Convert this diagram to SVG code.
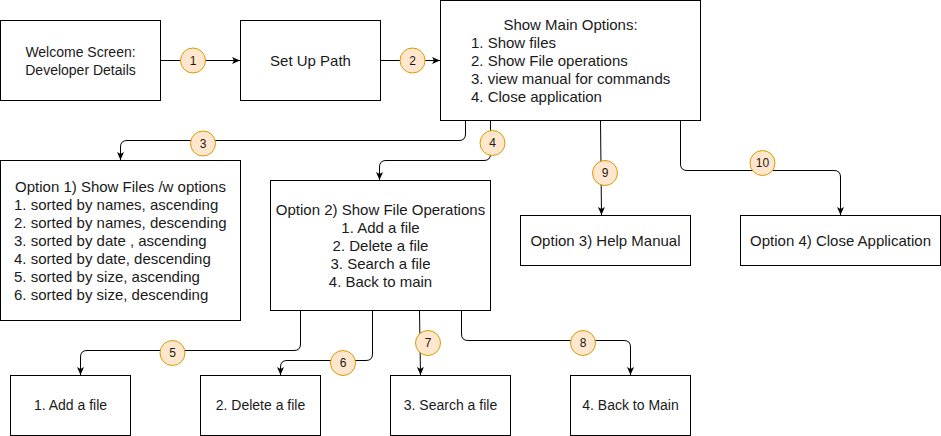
<svg xmlns="http://www.w3.org/2000/svg" width="941" height="436" viewBox="0 0 941 436">
<style>
.box{fill:#fff;stroke:#000;stroke-width:1}
.t{font-family:"Liberation Sans",Arial,sans-serif;font-size:15px;fill:#1a1a1a}
.s{font-size:14px}
.c{text-anchor:middle}
.e{fill:none;stroke:#000;stroke-width:1}
.lb{fill:#ffe6cc;stroke:#d79b00;stroke-width:1}
.n{font-family:"Liberation Sans",Arial,sans-serif;font-size:12px;fill:#1a1a1a;text-anchor:middle}
</style>
<defs>
<marker id="arr" markerUnits="userSpaceOnUse" markerWidth="8" markerHeight="7" viewBox="0 0 8 7" refX="8" refY="3.5" orient="auto">
<path d="M0,0 L8,3.5 L0,7 L2,3.5 z" fill="#000"/>
</marker>
</defs>
<rect width="941" height="436" fill="#fff"/>
<g id="welcome"><rect class="box" x="0.5" y="20.5" width="160" height="80"/><text class="t s c" x="80.5" y="57">Welcome Screen:</text><text class="t s c" x="80.5" y="74.5">Developer Details</text></g>
<g id="setup"><rect class="box" x="240.5" y="20.5" width="140" height="80"/><text class="t c" x="310.5" y="66">Set Up Path</text></g>
<g id="main"><rect class="box" x="440.5" y="0.5" width="260" height="120"/>
<text class="t c" x="570.5" y="29.5">Show Main Options:</text>
<text class="t" x="471" y="47.5">1. Show files</text>
<text class="t" x="471" y="65.5">2. Show File operations</text>
<text class="t" x="471" y="83.5">3. view manual for commands</text>
<text class="t" x="471" y="101.5">4. Close application</text></g>
<g id="opt1"><rect class="box" x="0.5" y="160.5" width="240" height="160"/>
<text class="t c" x="120.5" y="191.5">Option 1) Show Files /w options</text>
<text class="t" x="14" y="209.5">1. sorted by names, ascending</text>
<text class="t" x="14" y="227.5">2. sorted by names, descending</text>
<text class="t" x="14" y="245.5">3. sorted by date , ascending</text>
<text class="t" x="14" y="263.5">4. sorted by date, descending</text>
<text class="t" x="14" y="281.5">5. sorted by size, ascending</text>
<text class="t" x="14" y="299.5">6. sorted by size, descending</text></g>
<g id="opt2"><rect class="box" x="270.5" y="180.5" width="220" height="130"/>
<text class="t c" x="380.5" y="214.5">Option 2) Show File Operations</text>
<text class="t c" x="380.5" y="232.5">1. Add a file</text>
<text class="t c" x="380.5" y="250.5">2. Delete a file</text>
<text class="t c" x="380.5" y="268.5">3. Search a file</text>
<text class="t c" x="380.5" y="286.5">4. Back to main</text></g>
<g id="opt3"><rect class="box" x="520.5" y="215.5" width="170" height="50"/><text class="t c" x="605.5" y="246">Option 3) Help Manual</text></g>
<g id="opt4"><rect class="box" x="740.5" y="215.5" width="200" height="50"/><text class="t c" x="840.5" y="246">Option 4) Close Application</text></g>
<g id="add"><rect class="box" x="10.5" y="375.5" width="120" height="60"/><text class="t s c" x="70.5" y="410">1. Add a file</text></g>
<g id="delete"><rect class="box" x="200.5" y="375.5" width="120" height="60"/><text class="t s c" x="260.5" y="410">2. Delete a file</text></g>
<g id="search"><rect class="box" x="390.5" y="375.5" width="120" height="60"/><text class="t s c" x="450.5" y="410">3. Search a file</text></g>
<g id="back"><rect class="box" x="570.5" y="375.5" width="120" height="60"/><text class="t s c" x="630.5" y="410">4. Back to Main</text></g>
<g id="connectors">
<path class="e" marker-end="url(#arr)" d="M161,60.5 H240"/>
<path class="e" marker-end="url(#arr)" d="M381,60.5 H440"/>
<path class="e" marker-end="url(#arr)" d="M465.5,121 V134 Q465.5,140.5 459,140.5 H127 Q120.5,140.5 120.5,147 V160"/>
<path class="e" marker-end="url(#arr)" d="M490.5,121 V154 Q490.5,160.5 484,160.5 H386 Q379.5,160.5 379.5,167 V180"/>
<path class="e" marker-end="url(#arr)" d="M600.5,121 L601.5,215"/>
<path class="e" marker-end="url(#arr)" d="M680.5,121 V164 Q680.5,170.5 687,170.5 H834 Q840.5,170.5 840.5,177 V215"/>
<path class="e" marker-end="url(#arr)" d="M300.5,311 V344 Q300.5,350.5 294,350.5 H87 Q80.5,350.5 80.5,357 V375"/>
<path class="e" marker-end="url(#arr)" d="M372.5,311 V354 Q372.5,360.5 366,360.5 H287 Q280.5,360.5 280.5,367 V375"/>
<path class="e" marker-end="url(#arr)" d="M419.5,311 L420.5,375"/>
<path class="e" marker-end="url(#arr)" d="M461.5,311 V334 Q461.5,340.5 468,340.5 H624 Q630.5,340.5 630.5,347 V375"/>
<g id="labels">
<circle class="lb" cx="193" cy="60.5" r="12.5"/><text class="n" x="193" y="64.5">1</text>
<circle class="lb" cx="412.5" cy="60.5" r="12.5"/><text class="n" x="412.5" y="64.5">2</text>
<circle class="lb" cx="203" cy="143.5" r="12.5"/><text class="n" x="203" y="147.5">3</text>
<circle class="lb" cx="492.5" cy="143" r="12.5"/><text class="n" x="492.5" y="147">4</text>
<circle class="lb" cx="172.5" cy="353" r="12.5"/><text class="n" x="172.5" y="357">5</text>
<circle class="lb" cx="343" cy="363" r="12.5"/><text class="n" x="343" y="367">6</text>
<circle class="lb" cx="428" cy="343" r="12.5"/><text class="n" x="428" y="347">7</text>
<circle class="lb" cx="583" cy="343" r="12.5"/><text class="n" x="583" y="347">8</text>
<circle class="lb" cx="605" cy="173" r="12.5"/><text class="n" x="605" y="177">9</text>
<circle class="lb" cx="762.5" cy="163" r="12.5"/><text class="n" x="762.5" y="167">10</text>
</g>
</g>
</svg>
